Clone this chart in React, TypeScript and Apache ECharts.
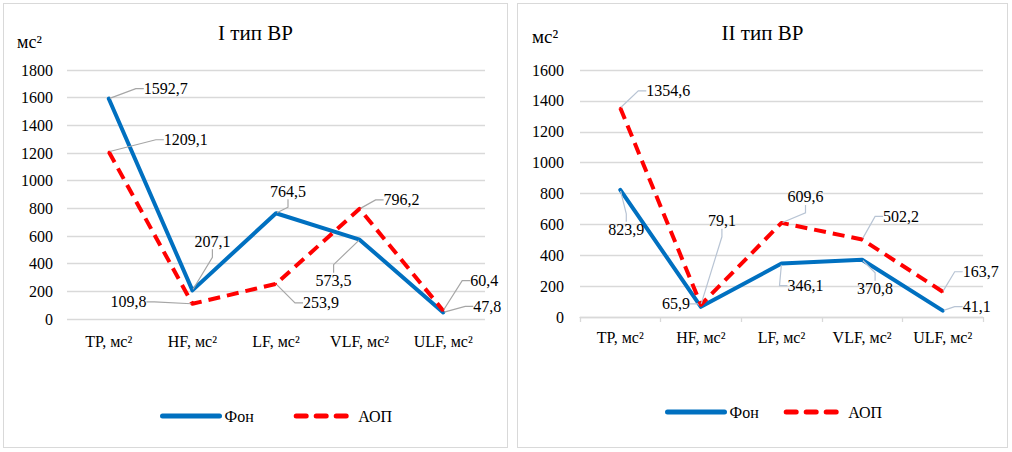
import React, { useEffect, useRef } from 'react';
import * as echarts from 'echarts';

// ---- data ----
const categories = ['TP, мс²', 'HF, мс²', 'LF, мс²', 'VLF, мс²', 'ULF, мс²'];
const seriesNames = ['Фон', 'АОП'];
const titles = ['I тип ВР', 'II тип ВР'];
const unitLabel = 'мс²';

const fonType1 = [1592.7, 207.1, 764.5, 573.5, 47.8];
const aopType1 = [1209.1, 109.8, 253.9, 796.2, 60.4];
const fonType2 = [823.9, 65.9, 346.1, 370.8, 41.1];
const aopType2 = [1354.6, 79.1, 609.6, 502.2, 163.7];

const yMax1 = 1800;
const yMax2 = 1600;
const yStep = 200;

// ---- label placement offsets (layout only) ----
const fonOffsets1 = [[57, -10], [20, -49], [12, -22], [-26, 41], [44, -6]];
const aopOffsets1 = [[77, -12], [-64, -2], [45, 19], [42, -9], [41, -30]];
const fonOffsets2 = [[6, 40], [-25, -3], [24, 22], [13, 29], [34, -4]];
const aopOffsets2 = [[48, -17], [21, -84], [24, -26], [39, -23], [38, -20]];

const FONT = 'Liberation Serif';
const BLUE = '#0070c0';
const RED = '#ff0000';

const fmt = (v: number) => v.toFixed(1).replace('.', ',');

type Cfg = {
  title: string;
  fon: number[];
  aop: number[];
  fonOff: number[][];
  aopOff: number[][];
  yMax: number;
  grid: { left: number; top: number; width: number; height: number };
  yLabelMargin: number;
  xLabelMargin: number;
  showAxis: boolean;
  leaderColor: string;
  unitPos: { left: number; top: number; size: number };
  legend: { left: number; top: number; gap: number };
};

function buildOption(c: Cfg): any {
  const mkSeries = (name: string, data: number[], color: string, dashed: boolean, offs: number[][], z: number) => ({
    name,
    type: 'line',
    data,
    z,
    symbol: 'circle',
    symbolSize: 2,
    showSymbol: true,
    itemStyle: { color },
    lineStyle: { color, width: 4, type: dashed ? [12, 7] : 'solid', cap: dashed ? 'butt' : 'round', join: 'round' },
    emphasis: { disabled: true },
    label: {
      show: true,
      position: 'inside',
      formatter: (p: any) => fmt(p.value),
      fontSize: 16,
      fontWeight: 'normal',
      color: '#000',
      fontFamily: FONT,
    },
    labelLine: { show: true, length2: 8, lineStyle: { color: c.leaderColor, width: 1.2 } },
    labelLayout: (p: any) => ({ dx: offs[p.dataIndex][0], dy: offs[p.dataIndex][1] }),
  });

  return {
    animation: false,
    textStyle: { fontFamily: FONT, fontWeight: 'normal' },
    title: [
      {
        text: c.title,
        left: 'center',
        top: 18,
        padding: 0,
        textStyle: { fontFamily: FONT, fontSize: 21, fontWeight: 'normal', color: '#000' },
      },
      {
        text: unitLabel,
        left: c.unitPos.left,
        top: c.unitPos.top,
        padding: 0,
        textStyle: { fontFamily: FONT, fontSize: c.unitPos.size, fontWeight: 'normal', color: '#000' },
      },
    ],
    legend: {
      data: [
        { name: seriesNames[0], lineStyle: { width: 5, cap: 'round', type: 'solid' } },
        { name: seriesNames[1], lineStyle: { width: 5, cap: 'round', type: [10, 10] } },
      ],
      left: c.legend.left,
      top: c.legend.top,
      itemWidth: 57,
      itemHeight: 14,
      itemGap: c.legend.gap,
      itemStyle: { opacity: 0 },
      textStyle: { fontFamily: FONT, fontSize: 16, fontWeight: 'normal', color: '#000' },
      selectedMode: false,
    },
    grid: { ...c.grid, containLabel: false },
    xAxis: {
      type: 'category',
      data: categories,
      boundaryGap: true,
      axisLine: { show: c.showAxis, lineStyle: { color: '#d9d9d9', width: 1.3 } },
      axisTick: { show: c.showAxis, length: 5, lineStyle: { color: '#d9d9d9', width: 1.3 } },
      axisLabel: { margin: c.xLabelMargin, fontSize: 16, fontWeight: 'normal', color: '#000', fontFamily: FONT },
    },
    yAxis: {
      type: 'value',
      min: 0,
      max: c.yMax,
      interval: yStep,
      axisLine: { show: false },
      axisTick: { show: false },
      axisLabel: {
        margin: c.yLabelMargin,
        fontSize: 16,
        fontWeight: 'normal',
        color: '#000',
        fontFamily: FONT,
        formatter: (v: number) => String(v),
      },
      splitLine: { lineStyle: { color: '#d9d9d9', width: 1.3 } },
    },
    series: [
      mkSeries(seriesNames[0], c.fon, BLUE, false, c.fonOff, 2),
      mkSeries(seriesNames[1], c.aop, RED, true, c.aopOff, 3),
    ],
  };
}

function ChartPanel({ option, style }: { option: any; style: React.CSSProperties }) {
  const ref = useRef<HTMLDivElement>(null);
  useEffect(() => {
    if (!ref.current) return;
    const chart = echarts.init(ref.current, undefined, { renderer: 'svg' });
    chart.setOption(option);
    return () => chart.dispose();
  }, [option]);
  return (
    <div
      style={{
        position: 'absolute',
        boxSizing: 'border-box',
        border: '1px solid #d9d9d9',
        background: '#fff',
        ...style,
      }}
    >
      <div ref={ref} style={{ width: '100%', height: '100%' }} />
    </div>
  );
}

const option1 = buildOption({
  title: titles[0],
  fon: fonType1,
  aop: aopType1,
  fonOff: fonOffsets1,
  aopOff: aopOffsets1,
  yMax: yMax1,
  grid: { left: 63, top: 66, width: 418, height: 249 },
  yLabelMargin: 14,
  xLabelMargin: 14,
  showAxis: false,
  leaderColor: '#a6a6a6',
  unitPos: { left: 13, top: 29, size: 18 },
  legend: { left: 151, top: 399, gap: 40 },
});

const option2 = buildOption({
  title: titles[1],
  fon: fonType2,
  aop: aopType2,
  fonOff: fonOffsets2,
  aopOff: aopOffsets2,
  yMax: yMax2,
  grid: { left: 62, top: 66, width: 403, height: 247 },
  yLabelMargin: 16,
  xLabelMargin: 12,
  showAxis: true,
  leaderColor: '#b8c4d4',
  unitPos: { left: 14, top: 23, size: 19 },
  legend: { left: 142, top: 395, gap: 25 },
});

export default function App() {
  return (
    <div style={{ position: 'absolute', left: 0, top: 0, width: 1012, height: 452, background: '#fff' }}>
      <ChartPanel option={option1} style={{ left: 3, top: 3, width: 505, height: 445 }} />
      <ChartPanel option={option2} style={{ left: 517, top: 3, width: 491, height: 445 }} />
    </div>
  );
}
